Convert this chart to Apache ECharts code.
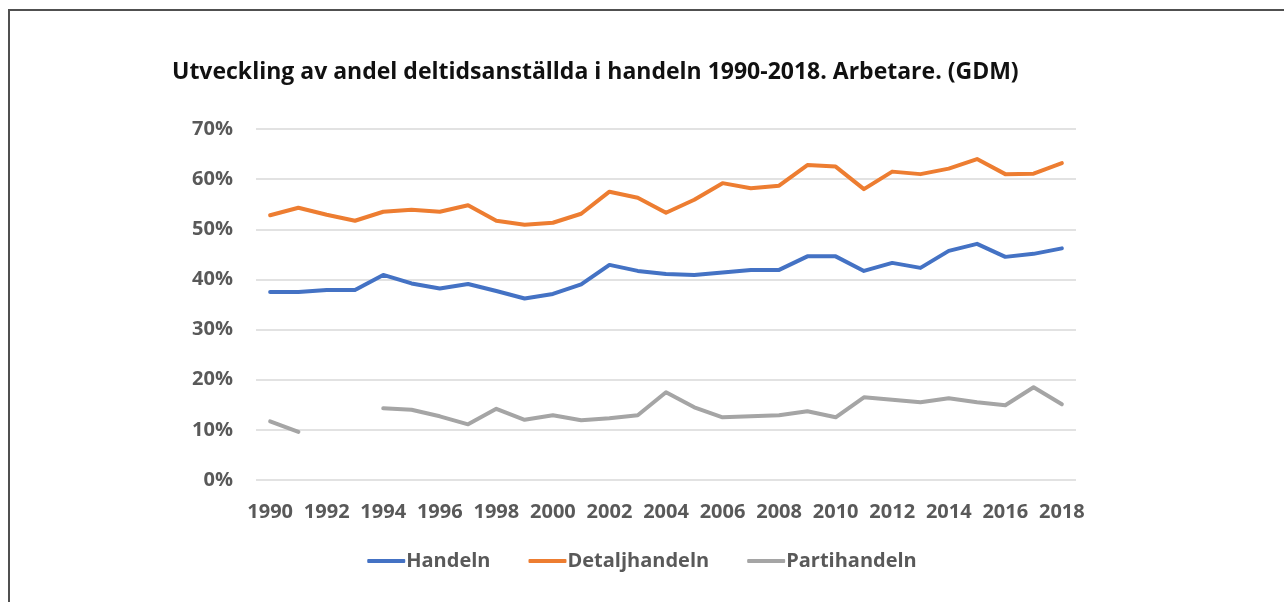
<!DOCTYPE html>
<html>
<head>
<meta charset="utf-8">
<script src="https://cdn.jsdelivr.net/npm/echarts@6/dist/echarts.min.js"></script>
<style>
  html, body { margin: 0; padding: 0; background: #fff; }
  #frame {
    position: absolute; left: 8px; top: 9px; width: 1290px; height: 600px;
    border-top: 2px solid #505050; border-left: 2px solid #505050;
  }
  #chart { position: absolute; left: 0; top: 0; width: 1284px; height: 602px; }
</style>
</head>
<body>
<div id="frame"></div>
<div id="chart"></div>
<script>
// years on x axis
var years = ['1990', '1991', '1992', '1993', '1994', '1995', '1996', '1997', '1998', '1999',
  '2000', '2001', '2002', '2003', '2004', '2005', '2006', '2007', '2008', '2009',
  '2010', '2011', '2012', '2013', '2014', '2015', '2016', '2017', '2018'];

// andel deltid, procent
var handeln = [37.5, 37.5, 37.9, 37.9, 40.9, 39.2, 38.2, 39.1, 37.7, 36.2,
  37.1, 39.0, 42.9, 41.7, 41.1, 40.9, 41.4, 41.9, 41.9, 44.6,
  44.6, 41.7, 43.3, 42.3, 45.7, 47.1, 44.5, 45.1, 46.2];
var detaljhandeln = [52.8, 54.3, 52.9, 51.7, 53.5, 53.9, 53.5, 54.8, 51.7, 50.9,
  51.3, 53.1, 57.5, 56.3, 53.3, 55.9, 59.2, 58.2, 58.7, 62.8,
  62.5, 58.0, 61.5, 61.0, 62.1, 64.0, 61.0, 61.1, 63.2];
var partihandeln = [11.7, 9.6, null, null, 14.3, 14.0, 12.7, 11.1, 14.2, 12.0,
  12.9, 11.9, 12.3, 12.9, 17.5, 14.5, 12.5, 12.7, 12.9, 13.7,
  12.5, 16.5, 16.0, 15.5, 16.3, 15.5, 14.9, 18.5, 15.1];

var seriesNames = ['Handeln', 'Detaljhandeln', 'Partihandeln'];
var colors = ['#4472C4', '#ED7D31', '#A5A5A5'];

var myChart = echarts.init(document.getElementById('chart'));
var labelFont = '"Open Sans", Lato, sans-serif';

function lineSeries(name, data, color) {
  return {
    name: name,
    type: 'line',
    data: data,
    symbol: 'none',
    connectNulls: false,
    lineStyle: { color: color, width: 4, cap: 'round', join: 'round' },
    itemStyle: { color: color }
  };
}

var option = {
  animation: false,
  color: colors,
  title: {
    text: 'Utveckling av andel deltidsanställda i handeln 1990-2018. Arbetare. (GDM)',
    left: 167,
    top: 56,
    textStyle: {
      fontFamily: labelFont,
      fontSize: 23,
      fontWeight: 'bold',
      color: '#111'
    }
  },
  legend: {
    data: seriesNames,
    bottom: 26,
    left: 'center',
    itemWidth: 38,
    itemHeight: 4,
    itemGap: 38,
    icon: 'roundRect',
    textStyle: {
      fontFamily: labelFont,
      fontSize: 20,
      fontWeight: 'bold',
      color: '#595959',
      padding: [0, 0, 0, -4]
    }
  },
  grid: {
    left: 256,
    right: 208,
    top: 129,
    bottom: 122,
    containLabel: false
  },
  xAxis: {
    type: 'category',
    data: years,
    boundaryGap: true,
    axisLine: { show: false },
    axisTick: { show: false },
    axisLabel: {
      interval: 1,
      margin: 22,
      fontFamily: labelFont,
      fontSize: 20,
      fontWeight: 'bold',
      color: '#595959'
    }
  },
  yAxis: {
    type: 'value',
    min: 0,
    max: 70,
    interval: 10,
    axisLine: { show: false },
    axisTick: { show: false },
    splitLine: { lineStyle: { color: '#d9d9d9', width: 1.5 } },
    axisLabel: {
      margin: 23,
      formatter: '{value}%',
      fontFamily: labelFont,
      fontSize: 20,
      fontWeight: 'bold',
      color: '#595959'
    }
  },
  series: [
    lineSeries(seriesNames[0], handeln, colors[0]),
    lineSeries(seriesNames[1], detaljhandeln, colors[1]),
    lineSeries(seriesNames[2], partihandeln, colors[2])
  ]
};
myChart.setOption(option);
</script>
</body>
</html>
